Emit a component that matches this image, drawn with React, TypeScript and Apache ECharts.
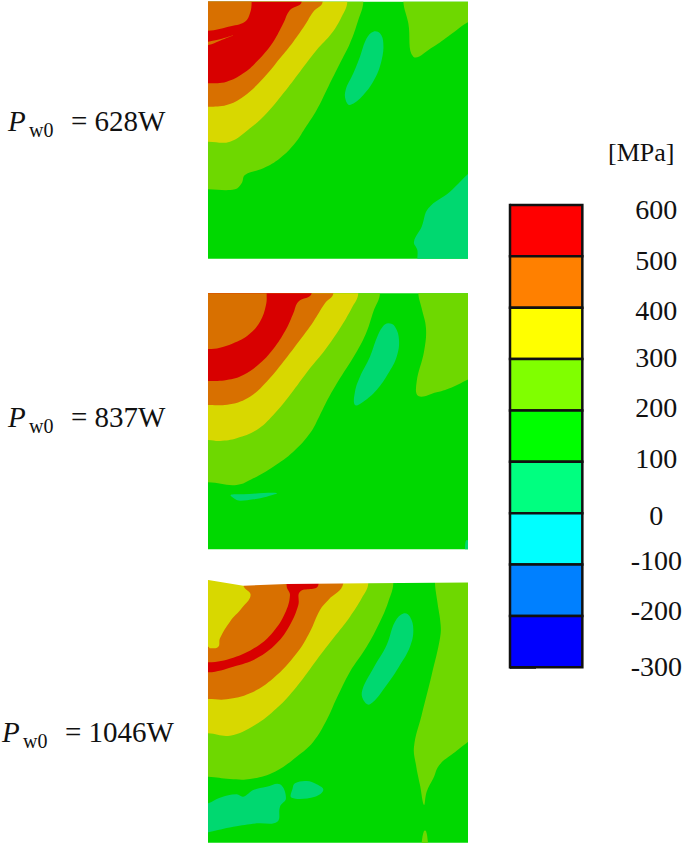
import React, { useEffect, useRef } from "react";
import * as echarts from "echarts";

type Pt = number[];

// colour of each stress band on the maps
const C_0_100 = "#00d870";
const C_100_200 = "#00d800";
const C_200_300 = "#6ed800";
const C_300_400 = "#d8d800";
const C_400_500 = "#d87000";
const C_500_600 = "#d80000";

// colour bar
const barTicks = [600, 500, 400, 300, 200, 100, 0, -100, -200, -300];
const barColors = ["#ff0000", "#ff8000", "#ffff00", "#80ff00", "#00ff00", "#00ff80", "#00ffff", "#0080ff", "#0000ff"];
const barLabelNudge = [4, 4, 3, -2, -3, -3, 2, -4, -5, -1];

const panelNames = ["628", "837", "1046"];

// Panel 628 W contours
const a200: Pt[] = [[490, 5], [475, 60], [450, 130], [420, 190], [385, 260], [350, 330], [315, 385], [285, 430], [240, 475], [190, 505], [135, 525], [125, 550], [105, 568], [25, 568]];
const a200b: Pt[] = [[610, -100], [610, 5], [625, 70], [640, 170], [700, 140], [750, 105], [801, 68], [900, 20], [900, -100]];
const a300: Pt[] = [[442, 5], [425, 50], [395, 100], [350, 150], [300, 215], [250, 280], [200, 340], [150, 385], [90, 425], [25, 425]];
const a400: Pt[] = [[368, 5], [340, 35], [315, 75], [280, 125], [240, 175], [190, 235], [130, 290], [80, 315], [25, 320]];
const a500: Pt[] = [[305, 5], [270, 30], [250, 70], [220, 125], [175, 180], [130, 220], [80, 245], [25, 250]];
const a400i: Pt[] = [[155, 5], [150, 40], [135, 65], [85, 80], [25, 92]];
const a400s: Pt[] = [[-50, 135], [25, 125], [60, 118], [100, 106], [60, 122], [25, 135], [-50, 145]];
const a0: Pt[] = [[520, 95], [540, 100], [550, 130], [545, 180], [525, 235], [490, 285], [450, 315], [437, 300], [437, 270], [460, 220], [480, 170], [500, 115]];
const a0b: Pt[] = [[900, 440], [801, 525], [750, 575], [685, 625], [665, 680], [642, 725], [652, 750], [652, 776], [652, 900], [900, 900]];

// Panel 837 W contours
const b200: Pt[] = [[540, 25], [520, 80], [500, 140], [470, 200], [420, 280], [385, 340], [360, 390], [330, 445], [280, 500], [220, 545], [160, 580], [110, 600], [25, 592]];
const b200b: Pt[] = [[655, -100], [655, 25], [665, 70], [678, 130], [672, 200], [650, 290], [655, 333], [710, 322], [760, 305], [801, 285], [900, 240], [900, -100]];
const b300: Pt[] = [[475, 25], [455, 70], [420, 130], [375, 195], [330, 250], [270, 330], [220, 390], [170, 435], [110, 460], [60, 468], [25, 465]];
const b400: Pt[] = [[400, 25], [375, 55], [340, 110], [300, 165], [250, 230], [200, 290], [150, 335], [90, 358], [25, 360]];
const b500: Pt[] = [[335, 25], [295, 50], [280, 85], [260, 130], [225, 185], [180, 235], [130, 270], [80, 285], [25, 288]];
const b400i: Pt[] = [[200, 25], [198, 60], [180, 110], [145, 150], [100, 175], [60, 188], [25, 192]];
const b0: Pt[] = [[565, 115], [585, 125], [597, 165], [590, 215], [565, 265], [530, 315], [490, 350], [465, 360], [465, 320], [480, 275], [510, 215], [530, 160], [548, 125]];
const b0s: Pt[] = [[92, 630], [130, 628], [230, 624], [200, 635], [160, 643], [120, 647], [105, 642]];
const b0c: Pt[] = [[801, 765], [795, 793], [801, 800], [830, 800]];

// Panel 1046 W contours
const c200: Pt[] = [[580, 24], [565, 80], [540, 140], [500, 215], [450, 290], [410, 370], [380, 435], [340, 500], [290, 545], [225, 590], [150, 612], [90, 612], [25, 605]];
const c200b: Pt[] = [[705, -100], [705, 24], [712, 80], [722, 150], [720, 190], [695, 300], [665, 420], [642, 515], [648, 570], [660, 630], [672, 690], [680, 650], [700, 610], [718, 570], [760, 535], [801, 503], [900, 430], [900, -100]];
const c200t: Pt[] = [[672, 768], [678, 768], [684, 803], [690, 860], [660, 860], [665, 803]];
const c300: Pt[] = [[505, 25], [485, 70], [450, 125], [400, 190], [350, 255], [290, 335], [230, 400], [165, 450], [90, 482], [25, 475]];
const c400: Pt[] = [[430, 25], [385, 75], [360, 105], [330, 170], [290, 235], [220, 310], [150, 355], [80, 373], [25, 372]];
const c500: Pt[] = [[355, 30], [300, 50], [295, 90], [270, 150], [230, 205], [170, 250], [100, 275], [25, 292]];
const c400i: Pt[] = [[260, 33], [270, 60], [255, 115], [220, 170], [170, 215], [100, 248], [25, 262]];
const c300i: Pt[] = [[130, 30], [152, 60], [125, 100], [90, 140], [60, 190], [55, 215], [30, 220], [25, 215]];
const c0: Pt[] = [[612, 115], [630, 125], [640, 165], [630, 215], [600, 270], [560, 330], [510, 388], [490, 375], [487, 345], [520, 280], [560, 210], [585, 140]];
const c0a: Pt[] = [[-50, 715], [25, 685], [60, 668], [110, 658], [130, 665], [160, 645], [200, 635], [240, 628], [258, 670], [240, 695], [232, 740], [170, 745], [100, 755], [25, 772], [-50, 790]];
const c0b: Pt[] = [[285, 625], [320, 618], [350, 628], [370, 645], [345, 665], [275, 668], [278, 640]];
const cTopEdge: Pt[] = [[-50, -50], [900, -50], [900, 22], [500, 25], [260, 27], [130, 32], [25, 15], [-50, 15]];

// Extends a boundary that runs from the top edge to the left edge so that it encloses the corner.
const corner = (p: Pt[]): Pt[] => {
  const top = p[0];
  const left = p[p.length - 1];
  return [...p, [-200, left[1]], [-200, -200], [top[0], -200]];
};

type Layer = { c: string; pts: Pt[]; sharp?: boolean };

const panelA: Layer[] = [
  { c: C_200_300, pts: corner(a200) }, { c: C_200_300, pts: a200b },
  { c: C_300_400, pts: corner(a300) }, { c: C_400_500, pts: corner(a400) },
  { c: C_500_600, pts: corner(a500) }, { c: C_400_500, pts: corner(a400i) }, { c: C_400_500, pts: a400s },
  { c: C_0_100, pts: a0 }, { c: C_0_100, pts: a0b },
];
const panelB: Layer[] = [
  { c: C_200_300, pts: corner(b200) }, { c: C_200_300, pts: b200b },
  { c: C_300_400, pts: corner(b300) }, { c: C_400_500, pts: corner(b400) },
  { c: C_500_600, pts: corner(b500) }, { c: C_400_500, pts: corner(b400i) },
  { c: C_0_100, pts: b0 }, { c: C_0_100, pts: b0s }, { c: C_0_100, pts: b0c },
];
const panelC: Layer[] = [
  { c: C_200_300, pts: corner(c200) }, { c: C_200_300, pts: c200b }, { c: C_200_300, pts: c200t },
  { c: C_300_400, pts: corner(c300) }, { c: C_400_500, pts: corner(c400) },
  { c: C_500_600, pts: corner(c500) }, { c: C_400_500, pts: corner(c400i) }, { c: C_300_400, pts: corner(c300i) },
  { c: C_0_100, pts: c0 }, { c: C_0_100, pts: c0a }, { c: C_0_100, pts: c0b },
  { c: "#ffffff", pts: cTopEdge, sharp: true },
];

const SERIF = "'Liberation Serif', serif";
const panels = [
  { layers: panelA, top: 1.7, h: 257, yMin: 5, yMax: 776, labelX: 8, baseline: 129 },
  { layers: panelB, top: 293.3, h: 256, yMin: 25, yMax: 793, labelX: 8, baseline: 425 },
  { layers: panelC, top: 580, h: 262.7, yMin: 15, yMax: 803, labelX: 2, baseline: 740 },
];

const EQ_SIZE = 29;
function powerLabel(name: string, x: number, baseline: number) {
  const text = (t: string, dx: number, dy: number, size: number, italic = false) => ({
    type: "text" as const,
    x: x + dx,
    y: baseline + dy,
    style: {
      text: t, fontFamily: SERIF, fontSize: size, fontStyle: italic ? "italic" : "normal",
      fill: "#111", textVerticalAlign: "bottom", verticalAlign: "bottom", textAlign: "left", align: "left",
    },
  });
  return [
    text("P", 0, 6, EQ_SIZE, true),
    text("w0", 21, 11, 20),
    text(`= ${name}W`, 63, 6, EQ_SIZE),
  ];
}

function buildOption() {
  const grid: any[] = [];
  const xAxis: any[] = [];
  const yAxis: any[] = [];
  const series: any[] = [];
  const graphic: any[] = [];

  panels.forEach((p, i) => {
    grid.push({ left: 208.3, top: p.top, width: 258.7, height: p.h });
    xAxis.push({ type: "value", gridIndex: i, min: 25, max: 801, show: false });
    yAxis.push({ type: "value", gridIndex: i, min: p.yMin, max: p.yMax, inverse: true, show: false });
    const base: Layer = { c: C_100_200, pts: [[0, 0], [900, 0], [900, 900], [0, 900]], sharp: true };
    const layers = [base, ...p.layers];
    series.push({
      type: "custom",
      name: `Pw0 = ${panelNames[i]}W`,
      coordinateSystem: "cartesian2d",
      xAxisIndex: i,
      yAxisIndex: i,
      clip: true,
      silent: true,
      data: layers.map((l) => l.pts[0]),
      renderItem: (params: any, api: any) => {
        const l = layers[params.dataIndex];
        return {
          type: "polygon",
          shape: { points: l.pts.map((q) => api.coord(q)), smooth: l.sharp ? 0 : 0.4 },
          style: { fill: l.c, stroke: "none" },
        };
      },
    });
    graphic.push(...powerLabel(panelNames[i], p.labelX, p.baseline));
  });

  // colour bar
  const n = panels.length;
  grid.push({ left: 510, top: 205, width: 74, height: 462.3 });
  xAxis.push({ type: "value", gridIndex: n, min: 0, max: 1, show: false });
  const rich: any = {};
  barLabelNudge.forEach((d, i) => {
    rich[`n${i}`] = {
      fontFamily: SERIF, fontSize: 28, color: "#111",
      padding: d > 0 ? [2 * d, 0, 0, 0] : [0, 0, -2 * d, 0],
    };
  });
  yAxis.push({
    type: "value", gridIndex: n, position: "right", min: -300, max: 600, interval: 100,
    splitLine: { show: false },
    axisLine: { show: true, lineStyle: { color: "#111", width: 2.5 } },
    axisTick: { show: true, length: 26, lineStyle: { color: "#111", width: 2.5 } },
    axisLabel: {
      show: true, margin: 74, align: "center", fontFamily: SERIF, fontSize: 28, color: "#111",
      formatter: (v: number) => `{n${barTicks.indexOf(v)}|${v}}`,
      rich,
    },
  });
  series.push({
    type: "custom",
    name: "colour bar",
    coordinateSystem: "cartesian2d",
    xAxisIndex: n,
    yAxisIndex: n,
    silent: true,
    data: barColors.map((_, i) => [barTicks[i + 1], barTicks[i]]),
    renderItem: (params: any, api: any) => {
      const a = api.coord([0, api.value(0)]);
      const b = api.coord([1, api.value(1)]);
      return {
        type: "rect",
        shape: { x: a[0], y: b[1], width: b[0] - a[0], height: a[1] - b[1] },
        style: { fill: barColors[params.dataIndex], stroke: "#111", lineWidth: 2.5 },
      };
    },
  });
  graphic.push({
    type: "text", x: 608, y: 152,
    style: { text: "[MPa]", fontFamily: SERIF, fontSize: 26, fill: "#111", textVerticalAlign: "middle", verticalAlign: "middle" },
  });

  return { animation: false, backgroundColor: "#fff", grid, xAxis, yAxis, series, graphic };
}

export default function App() {
  const ref = useRef<HTMLDivElement>(null);
  useEffect(() => {
    const chart = echarts.init(ref.current!, undefined, { renderer: "svg" });
    chart.setOption(buildOption() as any);
    return () => chart.dispose();
  }, []);
  return <div ref={ref} style={{ position: "absolute", left: 0, top: 0, width: 685, height: 844 }} />;
}
